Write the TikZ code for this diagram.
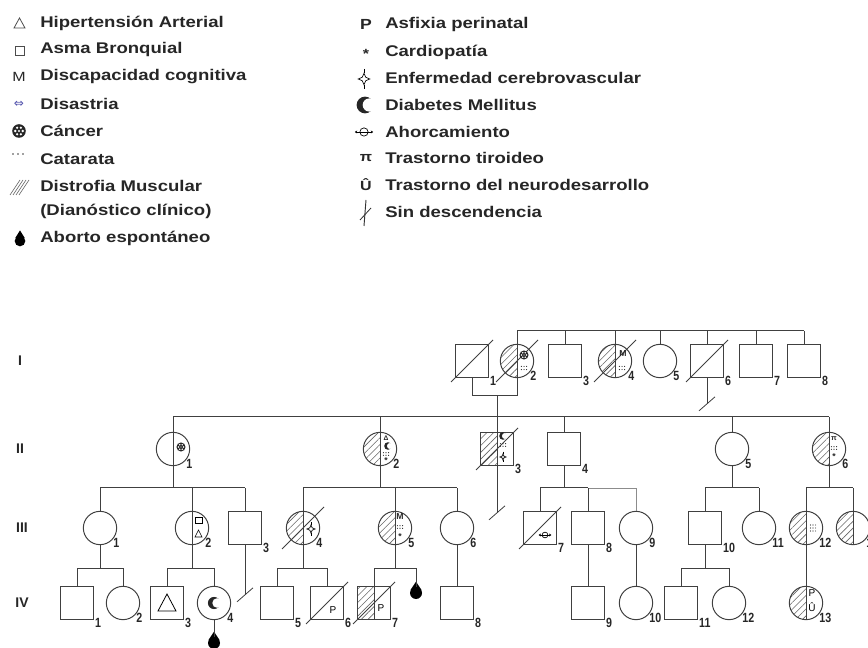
\documentclass[tikz,border=0pt]{standalone}
\usepackage{fontspec}
\setmainfont{Liberation Sans}
\newfontfamily\legfont{Liberation Sans}[FakeStretch=1.2]
\newfontfamily\numfont{Liberation Sans}[FakeStretch=0.8]
\newfontfamily\symfont{DejaVu Sans}
\usepackage{tikz}
\usetikzlibrary{positioning,calc,patterns.meta,arrows.meta}

% small symbols of the pedigree
\newcommand{\fallecido}[1]{\draw[ped, line width=0.6pt] ($(#1.center)+(-21,21)$) -- ($(#1.center)+(21,-21)$);}
\newcommand{\sindesc}[2]{\draw[ped] (#1.south) -- ++(0,#2) coordinate (#1sd);
  \draw[ped, line width=0.6pt] ($(#1sd)+(-8,7)$) -- ($(#1sd)+(8,-7)$);}
\newcommand{\gota}[1]{\fill (#1.150) -- ($(#1.north)+(0,-5)$) -- (#1.30) -- cycle;}
\newcommand{\catarata}[2]{\begin{scope}[shift={(#1)}]
  \foreach \dx in {-2.6,0,2.6}{\foreach \dy in {#2}{\fill[black!85] (\dx,\dy) circle (0.45pt);}}
  \end{scope}}
\newcommand{\cerebro}[2]{\begin{scope}[shift={(#1)}, scale=#2]
  \draw[line width=0.5pt] (0,-7) -- (0,-4) (0,4) -- (0,7);
  \draw[line width=0.5pt] (0,-4) -- (1.2,-1.2) -- (4,0) -- (1.2,1.2) -- (0,4) -- (-1.2,1.2) -- (-4,0) -- (-1.2,-1.2) -- cycle;
  \end{scope}}
\newcommand{\ahorca}[2]{\begin{scope}[shift={(#1)}, scale=#2]
  \draw[line width=0.5pt] (0,0) circle (2.7pt);
  \draw[line width=0.5pt, {Stealth[length=1.8pt,width=2.2pt]}-{Stealth[length=1.8pt,width=2.2pt]}] (-8,0) -- (8,0);
  \end{scope}}
\newcommand{\cancer}[2]{\begin{scope}[shift={(#1)}, scale=#2]
  \fill[black!85] (0,0) circle (3.4pt);
  \foreach \a in {0,60,...,300} {\fill[white] (\a:2.5) circle (0.65pt);}
  \fill[white] (0,0) circle (0.55pt);
  \end{scope}}
\newcommand{\diabetes}[2]{\begin{scope}[shift={(#1)}, scale=#2]
  \fill[black!85] (0,0) circle (3.8pt);
  \fill[white] (2.6,0) circle (3pt);
  \end{scope}}

\begin{document}
\begin{tikzpicture}[x=0.75pt, y=-0.75pt,
    ped/.style={draw=black!75, line width=0.75pt},
    faint/.style={draw=black!45, line width=0.5pt},
    male/.style={ped, rectangle, minimum size=24.5pt, inner sep=0pt},
    female/.style={ped, circle, minimum size=25pt, inner sep=0pt},
    abort/.style={circle, fill=black, inner sep=0pt, minimum size=9pt},
    dm/.style={path picture={\fill[pattern={Lines[angle=45,distance=3.6pt,line width=0.45pt]}, pattern color=black!60]
      (path picture bounding box.south west) rectangle (path picture bounding box.north);}},
    num/.style={font=\numfont\bfseries\fontsize{10}{10}\selectfont, inner sep=0.8pt, anchor=west, yshift=-2pt, text=black!85},
    gen/.style={font=\bfseries\fontsize{10.5}{10.5}\selectfont, text=black!85},
    sym/.style={font=\bfseries\fontsize{6.5}{6.5}\selectfont, inner sep=0pt, text=black!85},
    pp/.style={font=\fontsize{7.5}{7.5}\selectfont, inner sep=0pt},
    leg/.style={anchor=west, inner sep=0pt, font=\legfont\bfseries\fontsize{11.6}{12}\selectfont, text=black!85},
    legs/.style={inner sep=0pt, font=\legfont\bfseries\fontsize{10}{10}\selectfont, text=black!85}]
    \useasboundingbox (0,0) rectangle (868,648);

    % Leyenda, left column
    \draw[black!70, line width=0.6pt] (14,28) -- (19.5,18) -- (25,28) -- cycle;
    \node[leg] (l1) at (40,23) {Hipertensión Arterial};
    \draw[black!70, line width=0.7pt] (15,46) rectangle (24,55);
    \node[leg] (l2) at (40,50) {Asma Bronquial};
    \node[legs, font=\legfont\fontsize{10}{10}\selectfont] (s3) at (19,77) {M};
    \node[leg] (l3) at (40,77) {Discapacidad cognitiva};
    \node[font=\symfont\fontsize{9}{9}\selectfont, text=blue!35!gray, inner sep=0pt] (s4) at (19,104) {⇔};
    \node[leg] (l4) at (40,104) {Disastria};
    \cancer{19,131}{1.5}
    \node[leg] (l5) at (40,131) {Cáncer};
    \foreach \dx in {13,18,23} {\fill[black!75] (\dx,154) circle (0.7pt);}
    \node[leg] (l6) at (40,159) {Catarata};
    \foreach \i in {0,3,6,9} {\draw[black!60, line width=0.5pt] (10+\i,195) -- (20+\i,180);}
    \node[leg] (l7) at (40,186) {Distrofia Muscular};
    \node[leg] (l7b) at (40,211) {(Dianóstico clínico)};
    \node[abort, minimum size=8pt] (s8) at (20,241) {};
    \gota{s8}
    \node[leg] (l8) at (40,238) {Aborto espontáneo};

    % Leyenda, right column
    \node[legs, font=\legfont\bfseries\fontsize{11}{11}\selectfont] (r1s) at (366,24) {P};
    \node[leg] (r1) at (385,25) {Asfixia perinatal};
    \node[legs] (r2s) at (366,54) {*};
    \node[leg] (r2) at (385,52) {Cardiopatía};
    \cerebro{364,79}{1.45}
    \node[leg] (r3) at (385,78) {Enfermedad cerebrovascular};
    \diabetes{365,105}{1.65}
    \node[leg] (r4) at (385,105) {Diabetes Mellitus};
    \ahorca{364,132}{1.15}
    \node[leg] (r5) at (385,132) {Ahorcamiento};
    \node[legs] (r6s) at (366,158) {π};
    \node[leg] (r6) at (385,158) {Trastorno tiroideo};
    \node[legs] (r7s) at (366,185) {Û};
    \node[leg] (r7) at (385,185) {Trastorno del neurodesarrollo};
    \draw[black!80, line width=0.7pt] (366,200) -- (364,226);
    \draw[black!80, line width=0.6pt] (360,220) -- (371,208);
    \node[leg] (r8) at (385,212) {Sin descendencia};

    % Generations
    \node[gen] (gI) at (20,361) {I};
    \node[gen] (gII) at (20,449) {II};
    \node[gen] (gIII) at (22,528) {III};
    \node[gen] (gIV) at (22,603) {IV};

    % Generation I
    \node[male, label={[num]-45:1}] (I1) at (472,361) {};
    \node[female, dm, label={[num]-45:2}] (I2) at (517,361) {};
    \node[male, label={[num]-45:3}] (I3) at (565,361) {};
    \node[female, dm, label={[num]-45:4}] (I4) at (615,361) {};
    \node[female, label={[num]-45:5}] (I5) at (660,361) {};
    \node[male, label={[num]-45:6}] (I6) at (707,361) {};
    \node[male, label={[num]-45:7}] (I7) at (756,361) {};
    \node[male, label={[num]-45:8}] (I8) at (804,361) {};

    % Generation II
    \node[female, label={[num]-45:1}] (II1) at (173,449) {};
    \node[female, dm, label={[num]-45:2}] (II2) at (380,449) {};
    \node[male, dm, label={[num]-45:3}] (II3) at (497,449) {};
    \node[male, label={[num]-45:4}] (II4) at (564,449) {};
    \node[female, label={[num]-45:5}] (II5) at (732,449) {};
    \node[female, dm, label={[num]-45:6}] (II6) at (829,449) {};

    % Generation III
    \node[female, label={[num]-45:1}] (III1) at (100,528) {};
    \node[female, label={[num]-45:2}] (III2) at (192,528) {};
    \node[male, label={[num]-45:3}] (III3) at (245,528) {};
    \node[female, dm, label={[num]-45:4}] (III4) at (303,528) {};
    \node[female, dm, label={[num]-45:5}] (III5) at (395,528) {};
    \node[female, label={[num]-45:6}] (III6) at (457,528) {};
    \node[male, label={[num]-45:7}] (III7) at (540,528) {};
    \node[male, label={[num]-45:8}] (III8) at (588,528) {};
    \node[female, label={[num]-45:9}] (III9) at (636,528) {};
    \node[male, label={[num]-45:10}] (III10) at (705,528) {};
    \node[female, label={[num]-45:11}] (III11) at (759,528) {};
    \node[female, dm, label={[num]-45:12}] (III12) at (806,528) {};
    \node[female, dm, label={[num]-45:13}] (III13) at (853,528) {};

    % Generation IV
    \node[male, label={[num]-45:1}] (IV1) at (77,603) {};
    \node[female, label={[num]-45:2}] (IV2) at (123,603) {};
    \node[male, label={[num]-45:3}] (IV3) at (167,603) {};
    \node[female, label={[num]-45:4}] (IV4) at (214,603) {};
    \node[male, label={[num]-45:5}] (IV5) at (277,603) {};
    \node[male, label={[num]-45:6}] (IV6) at (327,603) {};
    \node[male, dm, label={[num]-45:7}] (IV7) at (374,603) {};
    \node[abort] (ab2) at (416,593) {};
    \node[male, label={[num]-45:8}] (IV8) at (457,603) {};
    \node[male, label={[num]-45:9}] (IV9) at (588,603) {};
    \node[female, label={[num]-45:10}] (IV10) at (636,603) {};
    \node[male, label={[num]-45:11}] (IV11) at (681,603) {};
    \node[female, label={[num]-45:12}] (IV12) at (729,603) {};
    \node[female, dm, label={[num]-45:13}] (IV13) at (806,603) {};
    \node[abort] (ab1) at (214,643) {};
    \gota{ab1}
    \gota{ab2}

    % Deceased
    \foreach \n in {I1,I2,I4,I6,II3,III4,III7,IV6,IV7} {\fallecido{\n}}

    % Levels of the lines
    \coordinate (y1) at (0,331);
    \coordinate (m1) at (497,396);
    \coordinate (y2) at (0,417);
    \coordinate (y3) at (0,488);
    \coordinate (y4) at (0,568);

    % Lines generation I
    \draw[ped] (I2.center |- y1) -- (I8.center |- y1);
    \foreach \n in {I3,I5,I6,I7,I8} {\draw[ped] (\n.north) -- (\n.north |- y1);}
    \draw[ped] (I4.south) -- (I4.center |- y1);
    \draw[ped] (I2.center |- y1) -- (I2.center |- m1);
    \draw[ped] (I1.south) |- (I2.center |- m1);
    \draw[ped] (m1) -- (II3.south);
    \sindesc{I6}{26}
    \sindesc{II3}{47}

    % Lines generation II
    \draw[ped] (II1.center |- y2) -- (II6.center |- y2);
    \foreach \n in {II1,II2,II6} {\draw[ped] (\n.center |- y2) -- (\n.center |- y3);}
    \foreach \n in {II4,II5} {
        \draw[ped] (\n.north) -- (\n.north |- y2);
        \draw[ped] (\n.south) -- (\n.south |- y3);
    }

    % Lines generation III
    \draw[ped] (III1.center |- y3) -- (III3.center |- y3);
    \draw[ped] (III4.center |- y3) -- (III6.center |- y3);
    \draw[ped] (III7.center |- y3) -- (III8.center |- y3);
    \draw[faint] (III8.center |- y3) -- (III9.center |- y3) -- (III9.north);
    \draw[ped] (III10.center |- y3) -- (III11.center |- y3);
    \draw[ped] (III12.center |- y3) -- (III13.center |- y3);
    \foreach \n in {III1,III3,III6,III7,III8,III10,III11} {\draw[ped] (\n.north) -- (\n.north |- y3);}
    \foreach \n in {III2,III4,III5} {\draw[ped] (\n.center |- y3) -- (\n.center |- y4);}
    \draw[ped] (III12.center |- y3) -- (IV13.south);
    \draw[ped] (III13.center |- y3) -- (III13.south);
    \draw[ped] (III1.south) -- (III1.center |- y4);
    \draw[ped] (III10.south) -- (III10.center |- y4);
    \sindesc{III3}{50}
    \draw[ped] (III6.south) -- (IV8.north);
    \draw[ped] (III8.south) -- (IV9.north);
    \draw[ped] (III9.south) -- (IV10.north);

    % Lines generation IV
    \draw[ped] (IV1.center |- y4) -- (IV2.center |- y4);
    \draw[ped] (IV3.center |- y4) -- (IV4.center |- y4);
    \draw[ped] (IV5.center |- y4) -- (IV6.center |- y4);
    \draw[ped] (IV7.center |- y4) -- (ab2.center |- y4);
    \draw[ped] (IV11.center |- y4) -- (IV12.center |- y4);
    \foreach \n in {IV1,IV2,IV3,IV4,IV5,IV6,IV11,IV12} {\draw[ped] (\n.north) -- (\n.north |- y4);}
    \draw[ped] (IV7.center |- y4) -- (IV7.south);
    \draw[ped] (ab2.center |- y4) -- (ab2.north);
    \draw[ped] (IV4.south) -- (ab1.north);

    % Signs inside the symbols
    \cancer{$(I2)+(7,-6)$}{1}
    \catarata{$(I2)+(7,7)$}{-1.6,1.6}
    \node[sym] (I4m) at (623,354) {M};
    \catarata{$(I4)+(7,7)$}{-1.6,1.6}
    \cancer{$(II1)+(8,-2)$}{1}
    \node[sym, font=\bfseries\fontsize{5}{5}\selectfont] (II2h) at (386,438) {Δ};
    \diabetes{$(II2)+(8,-3)$}{0.75}
    \catarata{$(II2)+(6,5)$}{-1.3,1.3}
    \node[sym] (II2k) at (386,461) {*};
    \diabetes{$(II3)+(6,-13)$}{0.75}
    \catarata{$(II3)+(6,-4)$}{-1.3,1.3}
    \cerebro{$(II3)+(6,8)$}{0.75}
    \node[sym, font=\bfseries\fontsize{5.5}{5.5}\selectfont] (II6t) at (834,439) {π};
    \catarata{$(II6)+(5,-1)$}{-1.3,1.3}
    \node[sym] (II6k) at (834,457) {*};
    \draw[line width=0.5pt] ($(III2)+(3,-11)$) rectangle ($(III2)+(10,-5)$);
    \draw[line width=0.5pt] ($(III2)+(3,9)$) -- ($(III2)+(6.5,2)$) -- ($(III2)+(10,9)$) -- cycle;
    \cerebro{$(III4)+(8,1)$}{1.0}
    \node[sym] (III5m) at (400,517) {M};
    \catarata{$(III5)+(5,-1)$}{-1.3,1.3}
    \node[sym] (III5k) at (400,537) {*};
    \ahorca{$(III7)+(5,7)$}{0.8}
    \catarata{$(III12)+(7,0)$}{-3,0,3}
    \draw[line width=0.6pt] ($(IV3)+(-9,8)$) -- ($(IV3)+(0,-9)$) -- ($(IV3)+(9,8)$) -- cycle;
    \diabetes{$(IV4)+(0,0)$}{1.2}
    \node[pp] (IV6p) at (333,610) {P};
    \node[pp] (IV7p) at (381,608) {P};
    \node[pp] (IV13p) at (812,593) {P};
    \node[pp] (IV13u) at (812,607) {Û};
\end{tikzpicture}
\end{document}
